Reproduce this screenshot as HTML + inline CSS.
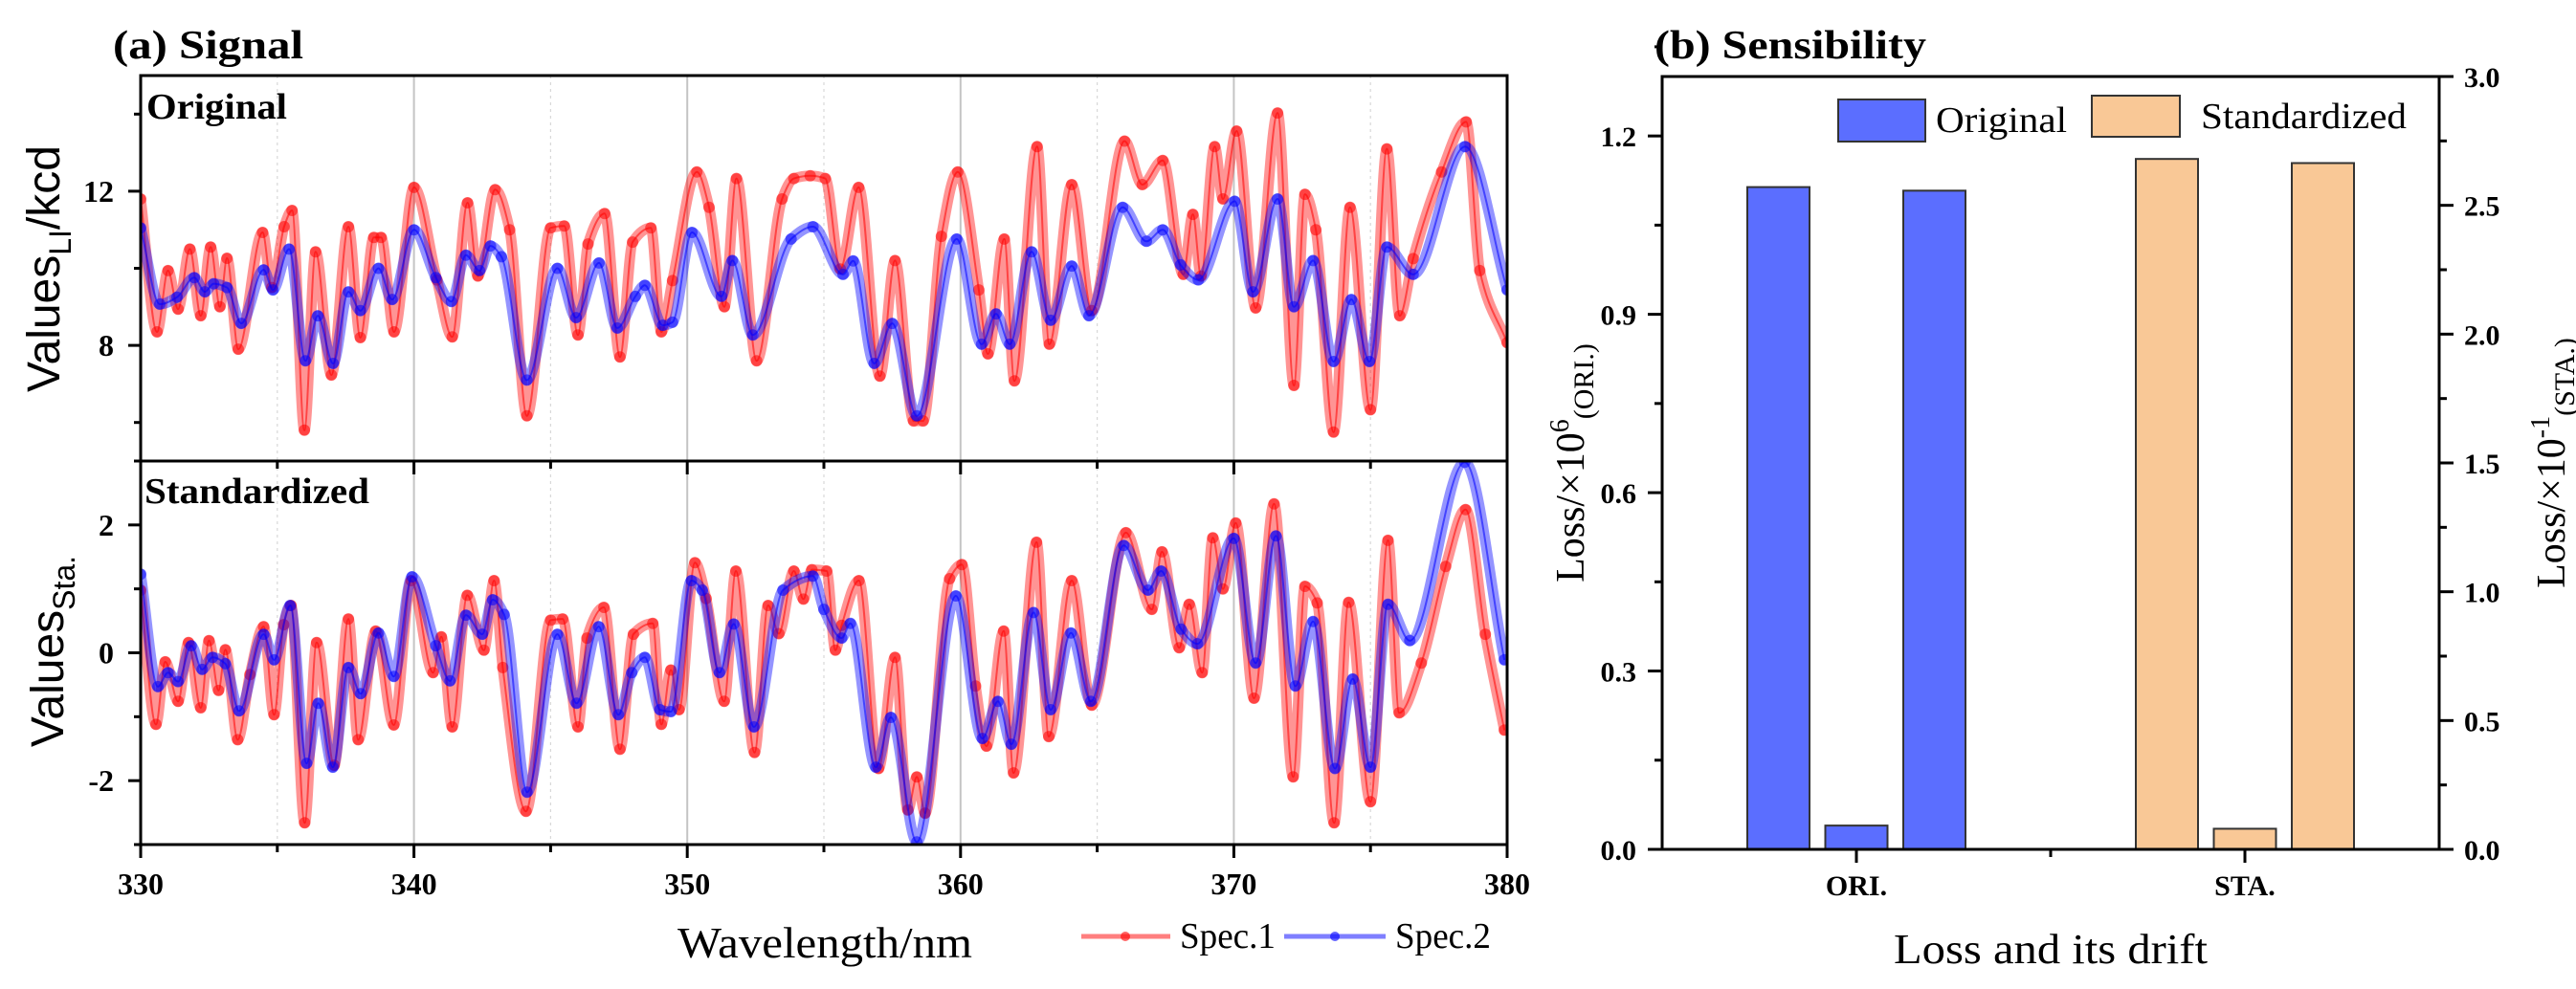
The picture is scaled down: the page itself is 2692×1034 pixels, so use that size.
<!DOCTYPE html>
<html><head><meta charset="utf-8">
<style>
html,body{margin:0;padding:0;background:#fff;}
svg{display:block;}
.serif{font-family:"Liberation Serif",serif;}
.sans{font-family:"Liberation Sans",sans-serif;}
</style></head>
<body>
<svg id="chart" width="2692" height="1034" viewBox="0 0 2692 1034" xmlns="http://www.w3.org/2000/svg">
<g id="left"></g>
<g id="right"></g>
</svg>
<script>
// ---------- Panel (a) data ----------
const spec2OrigWl = [330.0,330.7,331.33,331.96,332.35,332.67,333.16,333.68,334.5,334.84,335.43,336.03,336.48,337.04,337.6,338.04,338.7,339.2,340.0,340.8,341.37,341.9,342.4,342.8,343.2,344.13,345.25,345.93,346.77,347.44,348.1,348.45,349.1,349.46,350.17,351.25,351.65,352.4,353.8,354.6,355.7,356.07,356.84,357.5,358.4,359.86,360.77,361.3,361.8,362.6,363.3,364.07,364.7,365.93,366.8,367.4,368.05,368.7,370.03,370.7,371.6,372.2,372.9,373.65,374.3,374.96,375.6,376.56,378.46,380.0];
const spec2OrigVal = [11.05,9.07,9.25,9.76,9.39,9.6,9.5,8.57,9.96,9.44,10.5,7.6,8.77,7.53,9.39,8.9,10.0,9.19,11.0,9.76,9.14,10.34,9.94,10.58,10.3,7.1,10.0,8.72,10.14,8.45,9.27,9.56,8.52,8.6,10.93,9.27,10.2,8.27,10.76,11.08,9.84,10.19,7.53,8.57,6.17,10.76,8.03,8.82,8.03,10.43,8.65,10.06,8.77,11.58,10.7,11.0,10.09,9.7,11.74,9.39,11.8,9.0,10.2,7.58,9.19,7.58,10.55,9.84,13.16,9.44];
const spec1OrigWl = [330.0,330.6,331.0,331.37,331.8,332.2,332.56,332.9,333.16,333.57,334.46,334.8,335.25,335.54,335.99,336.4,336.98,337.6,338.04,338.53,338.8,339.27,340.0,340.84,341.4,341.96,342.34,342.97,343.5,344.13,345.0,345.5,346.0,346.37,346.98,347.54,348.0,348.67,349.05,349.46,350.35,350.8,351.36,351.8,352.54,353.47,353.9,354.5,355.05,355.6,356.27,357.05,357.6,358.28,358.63,359.3,359.9,360.67,361.0,361.6,361.97,362.8,363.25,364.07,364.8,366.0,366.65,367.4,368.15,368.5,368.8,369.3,369.6,370.1,370.8,371.6,372.2,372.6,373.0,373.65,374.25,375.0,375.6,376.07,376.56,377.6,378.5,379.0,380.0];
const spec1OrigVal = [11.8,8.35,9.94,8.94,10.5,8.77,10.55,9.0,10.26,7.9,10.93,9.5,11.08,11.5,5.8,10.43,7.23,11.08,8.2,10.8,10.8,8.35,12.1,9.7,8.22,11.7,9.8,12.04,11.0,6.17,11.05,11.1,8.27,10.63,11.42,7.7,10.68,11.05,8.35,9.68,12.5,11.58,9.0,12.33,7.6,11.8,12.33,12.4,12.33,9.98,12.1,7.2,10.2,6.04,6.04,10.83,12.5,9.44,7.78,10.76,7.08,13.16,8.03,12.17,8.9,13.3,12.17,12.8,9.84,11.4,9.8,13.16,11.8,13.56,8.97,14.03,6.96,11.92,11.0,5.75,11.58,6.33,13.1,8.77,10.25,12.5,13.8,9.94,8.07];
const spec2StaWl = [330.0,330.63,331.0,331.37,331.85,332.25,332.63,333.1,333.6,334.5,334.88,335.47,336.07,336.5,337.03,337.6,338.05,338.7,339.26,339.93,340.8,341.32,341.9,342.5,342.88,343.3,344.14,345.25,345.95,346.76,347.48,347.97,348.45,349.0,349.4,350.15,350.55,351.18,351.7,352.44,353.5,354.6,355.0,355.65,355.97,356.9,357.45,358.4,359.83,360.8,361.37,361.86,362.67,363.3,364.04,364.77,365.97,366.86,367.34,368.07,368.67,370.0,370.8,371.54,372.25,372.9,373.7,374.35,375.0,375.64,376.44,378.45,379.9];
const spec2StaVal = [1.23,-0.53,-0.31,-0.45,0.11,-0.26,-0.07,-0.17,-0.91,0.29,-0.11,0.74,-1.73,-0.79,-1.79,-0.23,-0.64,0.31,-0.37,1.19,0.11,-0.44,0.59,0.29,0.83,0.6,-2.18,0.29,-0.79,0.41,-0.97,-0.31,-0.07,-0.89,-0.92,1.13,0.98,-0.31,0.45,-1.16,0.98,1.2,0.68,0.23,0.46,-1.79,-1.01,-2.96,0.89,-1.34,-0.76,-1.43,0.63,-0.89,0.31,-0.76,1.68,0.98,1.28,0.37,0.14,1.79,-0.16,1.83,-0.52,0.49,-1.81,-0.41,-1.79,0.76,0.19,2.98,-0.11];
const spec1StaWl = [330.0,330.56,330.9,331.37,331.75,332.2,332.5,332.85,333.1,333.55,334.0,334.5,334.88,335.23,335.5,336.0,336.44,337.08,337.6,337.96,338.6,339.26,339.9,340.7,341.0,341.4,341.95,342.56,342.93,343.25,344.1,345.0,345.44,346.0,346.33,346.95,347.54,348.03,348.74,349.05,349.4,349.7,350.28,350.69,351.35,351.78,352.46,352.96,353.35,353.9,354.25,354.56,355.1,355.42,355.65,356.28,357.0,357.6,358.07,358.4,358.7,359.6,360.05,360.55,360.95,361.58,361.94,362.78,363.23,364.07,364.8,366.05,367.0,367.37,368.0,368.37,368.84,369.23,369.6,370.07,370.74,371.47,372.17,372.6,373.05,373.67,374.2,375.0,375.64,376.05,376.86,377.75,378.48,379.2,379.9];
const spec1StaVal = [0.98,-1.12,-0.14,-0.76,0.16,-0.86,0.19,-0.59,0.05,-1.36,-0.34,0.41,-0.97,0.44,0.74,-2.66,0.16,-1.76,0.53,-1.36,0.34,-1.13,1.13,-0.31,0.25,-1.16,0.9,0.04,1.13,-0.23,-2.48,0.51,0.53,-1.16,0.23,0.71,-1.51,0.29,0.46,-1.12,-0.27,-0.89,1.41,0.85,-0.76,1.28,-1.56,0.74,0.3,1.28,0.84,1.3,1.28,0.04,0.43,1.13,-1.81,-0.07,-2.46,-1.94,-2.51,1.16,1.38,-0.52,-1.46,0.34,-1.88,1.73,-1.31,1.13,-0.82,1.88,0.68,1.58,0.08,0.76,-0.31,1.8,1.0,2.03,-0.71,2.33,-1.94,1.04,0.78,-2.66,0.79,-2.33,1.76,-0.94,-0.16,1.35,2.24,0.29,-1.21];
const xTicks = [330,340,350,360,370,380];
const xMinorTicks = [335,345,355,365,375];
const topYTicks = [8,12];
const topYMinor = [6,10,14];
const botYTicks = [-2,0,2];
const botYMinor = [-3,-1,1,3];

// ---------- Panel (b) data ----------
const groups = ["ORI.","STA."];
const oriValues = [1.114,0.04,1.108];
const staValues = [2.68,0.08,2.664];
const leftTicks = ["0.0","0.3","0.6","0.9","1.2"];
const rightTicks = ["0.0","0.5","1.0","1.5","2.0","2.5","3.0"];

const NS = "http://www.w3.org/2000/svg";
function mk(parent, tag, attrs, text){
  const e = document.createElementNS(NS, tag);
  for (const k in attrs) e.setAttribute(k, attrs[k]);
  if (text !== undefined) e.textContent = text;
  parent.appendChild(e);
  return e;
}
const L = document.getElementById('left');
const R = document.getElementById('right');

const X0 = 147, X1 = 1575;
const xS = wl => X0 + (wl - 330) / 50 * (X1 - X0);
const TT = 79, TB = 482, BB = 883;
const yTop = v => TT + (15 - v) / 10 * (TB - TT);
const yBot = v => TB + (3 - v) / 6 * (BB - TB);

xTicks.slice(1,-1).forEach(t => {
  [[TT,TB],[TB,BB]].forEach(([a,b]) => {
    const g = mk(L,'line',{x1:xS(t),x2:xS(t),y1:a,y2:b,stroke:'#c4c4c4','stroke-width':2});
    
    
  });
});
xMinorTicks.forEach(t => {
  [[TT,TB],[TB,BB]].forEach(([a,b]) => {
    const g = mk(L,'line',{x1:xS(t),x2:xS(t),y1:a,y2:b,stroke:'#d8d8d8','stroke-width':1.2,'stroke-dasharray':'3 4'});
    
    
  });
});

function monoPath(xs, ys){
  const n = xs.length; if (n < 2) return '';
  const d = [], m = [];
  for (let i=0;i<n-1;i++) d.push((ys[i+1]-ys[i])/(xs[i+1]-xs[i]));
  m.push(d[0]);
  for (let i=1;i<n-1;i++){
    if (d[i-1]*d[i] <= 0) m.push(0);
    else { const h0=xs[i]-xs[i-1], h1=xs[i+1]-xs[i];
      const w1=2*h1+h0, w2=h1+2*h0; m.push((w1+w2)/(w1/d[i-1]+w2/d[i])); }
  }
  m.push(d[n-2]);
  let p = `M${xs[0].toFixed(1)},${ys[0].toFixed(1)}`;
  for (let i=0;i<n-1;i++){
    const h = (xs[i+1]-xs[i])/3;
    p += `C${(xs[i]+h).toFixed(1)},${(ys[i]+m[i]*h).toFixed(1)} ${(xs[i+1]-h).toFixed(1)},${(ys[i+1]-m[i+1]*h).toFixed(1)} ${xs[i+1].toFixed(1)},${ys[i+1].toFixed(1)}`;
  }
  return p;
}
const clipDefs = mk(document.getElementById('chart'),'defs',{});
const cp1 = mk(clipDefs,'clipPath',{id:'cTop'}); mk(cp1,'rect',{x:X0,y:TT,width:X1-X0,height:TB-TT});
const cp2 = mk(clipDefs,'clipPath',{id:'cBot'}); mk(cp2,'rect',{x:X0,y:TB,width:X1-X0,height:BB-TB});
const gTop = mk(L,'g',{'clip-path':'url(#cTop)'});
const gBot = mk(L,'g',{'clip-path':'url(#cBot)'});
function drawSeriesG(group, wl, vals, yFn, color, name){
  const g = mk(group,'g',{});
  
  
  const xs = wl.map(xS), ys = vals.map(yFn);
  const d = monoPath(xs, ys);
  mk(g,'path',{d:d,fill:'none',stroke:color,'stroke-opacity':0.42,'stroke-width':11,'stroke-linejoin':'round','stroke-linecap':'round'});
  mk(g,'path',{d:d,fill:'none',stroke:color,'stroke-opacity':0.55,'stroke-width':2});
  xs.forEach((x,i) => {
    const c = mk(g,'circle',{cx:x.toFixed(1),cy:ys[i].toFixed(1),r:6,fill:color,'fill-opacity':0.55});
    
    
  });
}
drawSeriesG(gTop, spec1OrigWl, spec1OrigVal, yTop, '#ff0000', 'spec1-original-line');
drawSeriesG(gTop, spec2OrigWl, spec2OrigVal, yTop, '#0000ff', 'spec2-original-line');
drawSeriesG(gBot, spec1StaWl, spec1StaVal, yBot, '#ff0000', 'spec1-standardized-line');
drawSeriesG(gBot, spec2StaWl, spec2StaVal, yBot, '#0000ff', 'spec2-standardized-line');

const fr = mk(L,'rect',{x:X0,y:TT,width:X1-X0,height:BB-TT,fill:'none',stroke:'#000','stroke-width':3});
 
const dv = mk(L,'line',{x1:X0,x2:X1,y1:TB,y2:TB,stroke:'#000','stroke-width':3});
 

[TB,BB].forEach(yy => {
  xTicks.forEach(t => mk(L,'line',{x1:xS(t),x2:xS(t),y1:yy,y2:yy+14,stroke:'#000','stroke-width':3}));
  xMinorTicks.forEach(t => mk(L,'line',{x1:xS(t),x2:xS(t),y1:yy,y2:yy+8,stroke:'#000','stroke-width':3}));
});
xTicks.forEach(t => {
  const tx = mk(L,'text',{x:xS(t),y:935,'text-anchor':'middle','font-size':32,'font-weight':'bold',class:'serif'}, String(t));
   
});
topYTicks.forEach(v => {
  mk(L,'line',{x1:X0-13,x2:X0,y1:yTop(v),y2:yTop(v),stroke:'#000','stroke-width':3});
  const t = mk(L,'text',{x:119,y:yTop(v)+11,'text-anchor':'end','font-size':32,'font-weight':'bold',class:'serif'}, String(v));
   
});
topYMinor.forEach(v => mk(L,'line',{x1:X0-7,x2:X0,y1:yTop(v),y2:yTop(v),stroke:'#000','stroke-width':3}));
botYTicks.forEach(v => {
  mk(L,'line',{x1:X0-13,x2:X0,y1:yBot(v),y2:yBot(v),stroke:'#000','stroke-width':3});
  const t = mk(L,'text',{x:119,y:yBot(v)+11,'text-anchor':'end','font-size':32,'font-weight':'bold',class:'serif'}, String(v));
   
});
botYMinor.forEach(v => mk(L,'line',{x1:X0-7,x2:X0,y1:yBot(v),y2:yBot(v),stroke:'#000','stroke-width':3}));

// ---------- Panel (b) ----------
const RX0 = 1737, RX1 = 2549, RT = 80, RB = 888;
const yL = v => RB - v / 1.3 * (RB - RT);
const yR = v => RB - v / 3.0 * (RB - RT);
const xCat = i => RX0 + (i + 0.5) / groups.length * (RX1 - RX0);
const BW = 65, BOFF = 81.5;
oriValues.forEach((v,i) => {
  const cx = xCat(0) + (i-1)*BOFF;
  const b = mk(R,'rect',{x:cx-BW/2,y:yL(v),width:BW,height:RB-yL(v),fill:'#5b6eff',stroke:'#333','stroke-width':2});
  
  
});
staValues.forEach((v,i) => {
  const cx = xCat(1) + (i-1)*BOFF;
  const b = mk(R,'rect',{x:cx-BW/2,y:yR(v),width:BW,height:RB-yR(v),fill:'#f9c896',stroke:'#333','stroke-width':2});
  
  
});
const rf = mk(R,'rect',{x:RX0,y:RT,width:RX1-RX0,height:RB-RT,fill:'none',stroke:'#000','stroke-width':3});
 
leftTicks.forEach(s => {
  const v = parseFloat(s);
  mk(R,'line',{x1:RX0-15,x2:RX0,y1:yL(v),y2:yL(v),stroke:'#000','stroke-width':3});
  mk(R,'line',{x1:RX0-8,x2:RX0,y1:yL(v+0.15),y2:yL(v+0.15),stroke:'#000','stroke-width':3});
  const t = mk(R,'text',{x:1710,y:yL(v)+11,'text-anchor':'end','font-size':30,'font-weight':'bold',class:'serif'}, s);
   
});
rightTicks.forEach(s => {
  const v = parseFloat(s);
  mk(R,'line',{x1:RX1,x2:RX1+15,y1:yR(v),y2:yR(v),stroke:'#000','stroke-width':3});
  if (v < 3) mk(R,'line',{x1:RX1,x2:RX1+8,y1:yR(v+0.25),y2:yR(v+0.25),stroke:'#000','stroke-width':3});
  const t = mk(R,'text',{x:2575,y:yR(v)+11,'text-anchor':'start','font-size':30,'font-weight':'bold',class:'serif'}, s);
   
});
groups.forEach((g,i) => {
  mk(R,'line',{x1:xCat(i),x2:xCat(i),y1:RB,y2:RB+14,stroke:'#000','stroke-width':3});
  const t = mk(R,'text',{x:xCat(i),y:936,'text-anchor':'middle','font-size':30,'font-weight':'bold',class:'serif'}, g);
   
});
mk(R,'line',{x1:(xCat(0)+xCat(1))/2,x2:(xCat(0)+xCat(1))/2,y1:RB,y2:RB+8,stroke:'#000','stroke-width':3});
</script>
<svg width="2692" height="1034" viewBox="0 0 2692 1034" xmlns="http://www.w3.org/2000/svg" style="position:absolute;left:0;top:0;pointer-events:none">
  <text x="118" y="61" font-size="42" font-weight="bold" class="serif" textLength="199" lengthAdjust="spacingAndGlyphs">(a) Signal</text>
  <text x="1729" y="61" font-size="42" font-weight="bold" class="serif" textLength="284" lengthAdjust="spacingAndGlyphs">(b) Sensibility</text>
  <text x="153" y="124" font-size="38" font-weight="bold" class="serif" textLength="147" lengthAdjust="spacingAndGlyphs">Original</text>
  <text x="151" y="526" font-size="38" font-weight="bold" class="serif" textLength="235" lengthAdjust="spacingAndGlyphs">Standardized</text>
  <text transform="translate(62,281) rotate(-90)" text-anchor="middle" font-size="48" class="sans">Values<tspan font-size="32" dy="12">LI</tspan><tspan dy="-12">/kcd</tspan></text>
  <text transform="translate(66,681) rotate(-90)" text-anchor="middle" font-size="48" class="sans">Values<tspan font-size="32" dy="12">Sta.</tspan></text>
  <text x="708" y="1001" font-size="46" class="serif" textLength="308" lengthAdjust="spacingAndGlyphs">Wavelength/nm</text>
  <g>
    <line x1="1130" y1="979" x2="1223" y2="979" stroke="#ff0000" stroke-opacity="0.5" stroke-width="5"/>
    <circle cx="1176" cy="979" r="5" fill="#ff0000" fill-opacity="0.6"/>
    <text x="1233" y="991" font-size="38" class="serif" textLength="100" lengthAdjust="spacingAndGlyphs">Spec.1</text>
    <line x1="1342" y1="979" x2="1448" y2="979" stroke="#0000ff" stroke-opacity="0.5" stroke-width="5"/>
    <circle cx="1395" cy="979" r="5" fill="#0000ff" fill-opacity="0.6"/>
    <text x="1458" y="991" font-size="38" class="serif" textLength="100" lengthAdjust="spacingAndGlyphs">Spec.2</text>
  </g>
  <g>
    <rect x="1921" y="104" width="91" height="44" fill="#5b6eff" stroke="#333" stroke-width="2"/>
    <text x="2023" y="138" font-size="38" class="serif" textLength="137" lengthAdjust="spacingAndGlyphs">Original</text>
    <rect x="2186" y="100" width="92" height="43" fill="#f9c896" stroke="#333" stroke-width="2"/>
    <text x="2300" y="134" font-size="38" class="serif" textLength="215" lengthAdjust="spacingAndGlyphs">Standardized</text>
  </g>
  <text x="1979" y="1007" font-size="44" class="serif" textLength="328" lengthAdjust="spacingAndGlyphs">Loss and its drift</text>
  <text transform="translate(1655,484) rotate(-90)" text-anchor="middle" font-size="42" class="serif">Loss/×10<tspan font-size="28" dy="-16">6</tspan><tspan font-size="30" dy="26">(ORI.)</tspan></text>
  <text transform="translate(2680,484) rotate(-90)" text-anchor="middle" font-size="42" class="serif">Loss/×10<tspan font-size="28" dy="-16">-1</tspan><tspan font-size="30" dy="26">(STA.)</tspan></text>
</svg>
</body></html>
